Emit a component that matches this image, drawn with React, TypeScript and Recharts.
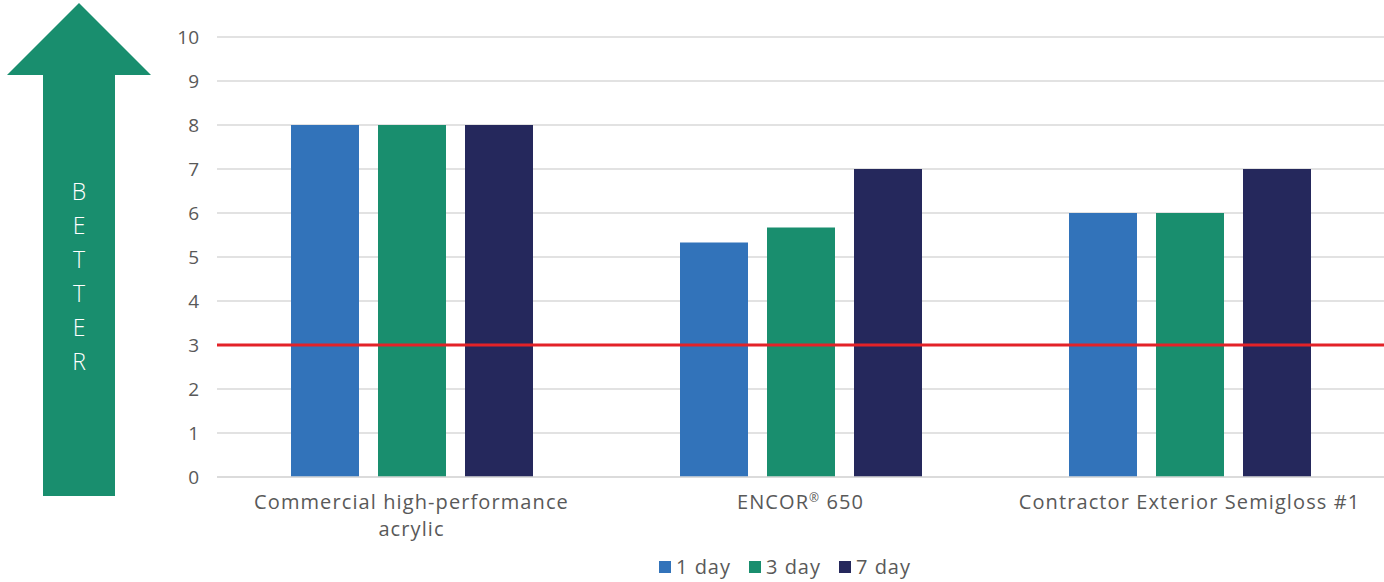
import { BarChart, Bar, XAxis, YAxis, CartesianGrid, ReferenceLine, Legend } from 'recharts';

const categories = ['Commercial high-performance acrylic', 'ENCOR® 650', 'Contractor Exterior Semigloss #1'];
const day1 = [8, 5.33, 6];
const day3 = [8, 5.67, 6];
const day7 = [8, 7, 7];
const yTicks = [0, 1, 2, 3, 4, 5, 6, 7, 8, 9, 10];
const threshold = 3;
const arrowLetters = ['B', 'E', 'T', 'T', 'E', 'R'];

const series = [
  { key: 'day1', name: '1 day', color: '#3273BA' },
  { key: 'day3', name: '3 day', color: '#198E6E' },
  { key: 'day7', name: '7 day', color: '#25285C' },
];

const data = categories.map((name, i) => ({ name, day1: day1[i], day3: day3[i], day7: day7[i] }));

const FONT = '"Open Sans", sans-serif';
const TEXT = '#595959';

const wrap = (label: string, max = 32) => {
  const lines: string[] = [];
  let cur = '';
  label.split(' ').forEach((w) => {
    const next = cur ? `${cur} ${w}` : w;
    if (next.length > max && cur) {
      lines.push(cur);
      cur = w;
    } else cur = next;
  });
  if (cur) lines.push(cur);
  return lines;
};

const renderLine = (line: string) => {
  const parts = line.split('®');
  if (parts.length === 1) return line;
  return (
    <>
      {parts[0]}
      <tspan fontSize={12} dy={-7}>®</tspan>
      <tspan dy={7}>{parts[1]}</tspan>
    </>
  );
};

const CategoryTick = ({ x, y, payload }: any) => {
  const lines = wrap(String(payload.value));
  return (
    <g transform={`translate(${x},${y})`}>
      {lines.map((line, i) => (
        <text key={i} x={0} y={24 + i * 27} textAnchor="middle" fill={TEXT} fontSize={20} fontFamily={FONT} letterSpacing={1.1}>
          {renderLine(line)}
        </text>
      ))}
    </g>
  );
};

const LegendContent = () => (
  <div style={{ display: 'flex', justifyContent: 'center', gap: 18, fontFamily: FONT, fontSize: 20, letterSpacing: 1, color: TEXT, paddingLeft: 186, paddingTop: 4 }}>
    {series.map((s) => (
      <div key={s.key} style={{ display: 'flex', alignItems: 'center', gap: 5 }}>
        <span style={{ width: 12, height: 12, background: s.color, display: 'inline-block' }} />
        <span>{s.name}</span>
      </div>
    ))}
  </div>
);

const BetterArrow = () => (
  <svg width={160} height={500} style={{ position: 'absolute', left: 0, top: 0 }}>
    <polygon points="79,3 151,75 115,75 115,496 43,496 43,75 7,75" fill="#198E6E" />
    {arrowLetters.map((ch, i) => (
      <text key={i} x={79} y={200 + i * 34} textAnchor="middle" fill="#fff" fontSize={23} fontFamily={FONT} fontWeight={300}>
        {ch}
      </text>
    ))}
  </svg>
);

export default function App() {
  return (
    <div style={{ position: 'absolute', left: 0, top: 0, width: 1384, height: 582, background: '#fff' }}>
      <BarChart width={1384} height={582} data={data} margin={{ top: 37, right: 0, bottom: 0, left: 0 }} barCategoryGap={74} barGap={19}>
        <CartesianGrid vertical={false} stroke="#D9D9D9" strokeWidth={1.5} />
        <XAxis dataKey="name" axisLine={{ stroke: '#D9D9D9', strokeWidth: 1.5 }} tickLine={false} height={72} tick={<CategoryTick />} interval={0} />
        <YAxis width={217} domain={[0, 10]} ticks={yTicks} axisLine={false} tickLine={false} tickMargin={12} tick={{ fill: TEXT, fontSize: 19, fontFamily: FONT }} />
        <Legend verticalAlign="bottom" height={33} content={<LegendContent />} />
        {series.map((s) => (
          <Bar key={s.key} dataKey={s.key} name={s.name} fill={s.color} isAnimationActive={false} />
        ))}
        <ReferenceLine y={threshold} stroke="#E32228" strokeWidth={3} />
      </BarChart>
      <BetterArrow />
    </div>
  );
}
